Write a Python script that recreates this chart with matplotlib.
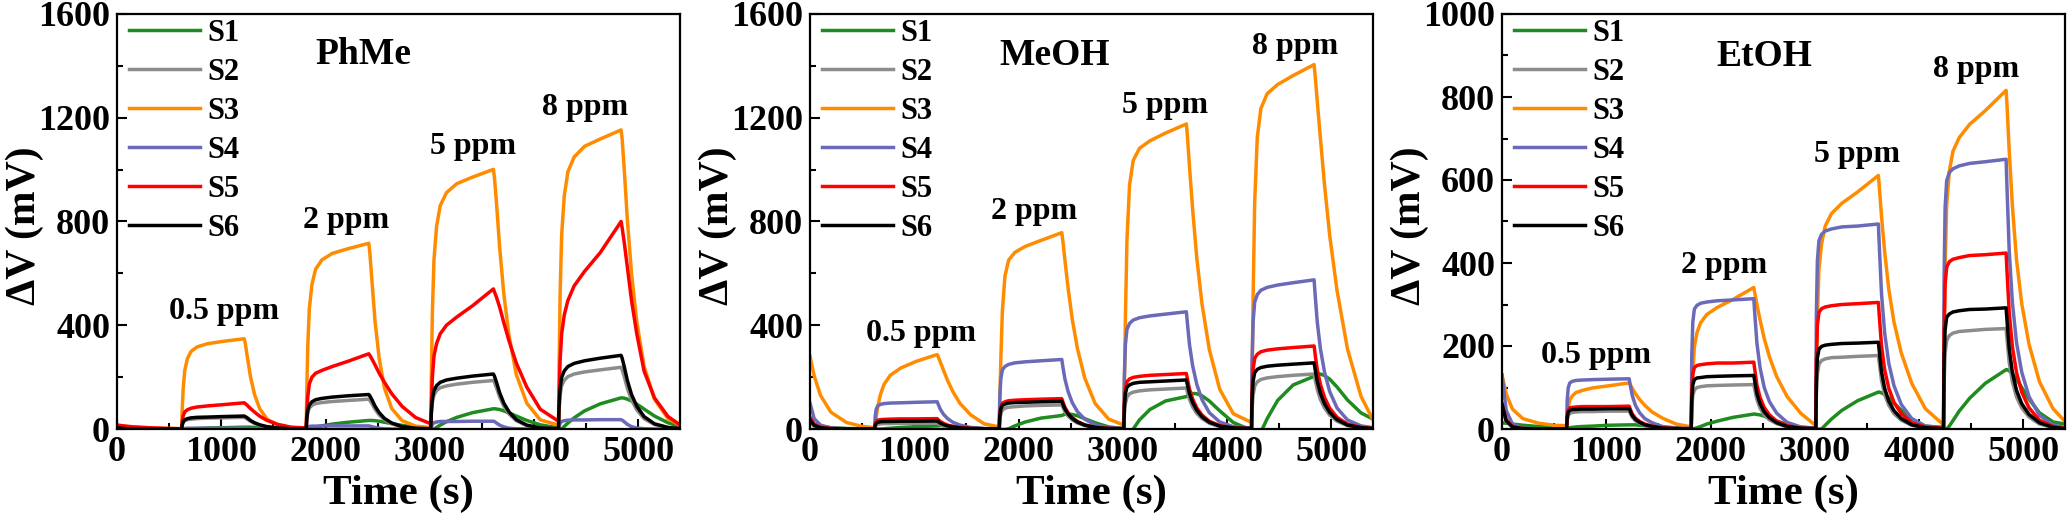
import matplotlib
matplotlib.use('Agg')
import matplotlib.pyplot as plt
from matplotlib.ticker import MultipleLocator

# ---------------- data ----------------
# shared time grid (s); gas on at ~620/1815/3010/4235 s, off 600 s later
time_s = [0, 40, 100, 200, 350, 500,
          620, 625, 635, 650, 675, 710, 770, 870, 1020, 1220,
          1230, 1250, 1280, 1320, 1370, 1440, 1540, 1670,
          1815, 1820, 1830, 1845, 1870, 1905, 1965, 2065, 2215, 2415,
          2425, 2445, 2475, 2515, 2565, 2635, 2735, 2865,
          3010, 3015, 3025, 3040, 3065, 3100, 3160, 3260, 3410, 3610,
          3620, 3640, 3670, 3710, 3760, 3830, 3930, 4060,
          4235, 4240, 4250, 4265, 4290, 4325, 4385, 4485, 4635, 4835,
          4845, 4865, 4895, 4935, 4985, 5055, 5155, 5285,
          5400]

sensor_names = ['S1', 'S2', 'S3', 'S4', 'S5', 'S6']
sensor_colors = ['#1e8c1e', '#8c8c8c', '#ff8c00', '#6a6ab8', '#ff0000', '#000000']

# ---- PhMe (mV) ----
phme_s1 = [0, 0, 0, 0, 0, 0,
           0, 0, 0, 0, 1, 1, 2, 4, 5, 7, 7, 7, 7, 6, 6, 4, 3, 1,
           0, 0, 0, 1, 3, 7, 12, 19, 26, 33, 33, 33, 32, 30, 26, 21, 14, 7,
           2, 1, 0, 0, 6, 15, 28, 45, 63, 78, 78, 77, 75, 70, 62, 50, 33, 16,
           4, 2, 0, 0, 10, 23, 43, 70, 97, 120, 120, 119, 115, 108, 96, 77, 50, 24,
           10]
phme_s2 = [3, 2, 1, 0, 0, 0,
           0, 14, 25, 32, 36, 38, 40, 42, 43, 45, 43, 38, 30, 21, 14, 8, 3, 1,
           0, 35, 63, 81, 91, 98, 102, 106, 110, 115, 110, 98, 76, 54, 36, 20, 8, 2,
           1, 56, 103, 131, 148, 159, 166, 173, 180, 187, 180, 159, 123, 88, 58, 32, 13, 4,
           2, 71, 131, 167, 188, 202, 212, 220, 228, 238, 228, 202, 157, 112, 74, 40, 17, 5,
           2]
phme_s3 = [15, 13, 10, 7, 4, 2,
           1, 70, 157, 226, 271, 299, 317, 329, 338, 348, 331, 278, 202, 132, 77, 38, 16, 5,
           2, 143, 322, 465, 558, 616, 652, 677, 695, 716, 680, 573, 415, 272, 158, 79, 32, 11,
           5, 200, 450, 651, 781, 861, 911, 946, 971, 1001, 971, 871, 701, 521, 360, 210, 100, 35,
           15, 231, 519, 749, 899, 992, 1049, 1090, 1118, 1153, 1118, 1003, 807, 600, 415, 242, 115, 40,
           14]
phme_s4 = [0, 0, 0, 0, 0, 0,
           0, 1, 2, 2, 3, 3, 3, 3, 3, 3, 3, 2, 2, 1, 0, 0, 0, 0,
           0, 4, 7, 10, 11, 11, 12, 12, 12, 12, 11, 9, 6, 3, 1, 0, 0, 0,
           0, 9, 18, 24, 27, 29, 29, 29, 30, 30, 29, 23, 15, 8, 3, 1, 0, 0,
           0, 11, 22, 29, 32, 34, 35, 35, 36, 36, 34, 28, 18, 9, 4, 1, 0, 0,
           0]
phme_s5 = [15, 13, 10, 7, 4, 2,
           1, 25, 51, 66, 74, 80, 85, 89, 94, 101, 98, 91, 79, 65, 49, 33, 18, 7,
           4, 58, 125, 174, 200, 215, 226, 241, 261, 290, 284, 270, 247, 215, 180, 136, 87, 44,
           20, 92, 200, 281, 329, 367, 400, 432, 475, 540, 529, 508, 470, 410, 340, 254, 162, 76,
           30, 120, 264, 368, 440, 496, 552, 608, 680, 800, 776, 720, 624, 496, 368, 224, 120, 48,
           16]
phme_s6 = [5, 3, 1, 0, 0, 0,
           0, 15, 28, 35, 40, 43, 45, 46, 48, 50, 48, 43, 33, 24, 16, 9, 4, 1,
           0, 40, 73, 93, 105, 113, 118, 123, 128, 133, 128, 113, 88, 63, 41, 23, 9, 3,
           1, 64, 117, 148, 167, 180, 189, 196, 204, 212, 204, 180, 140, 100, 66, 36, 15, 4,
           2, 85, 156, 199, 224, 241, 253, 263, 273, 284, 273, 241, 187, 133, 88, 48, 20, 6,
           2]

# ---- MeOH (mV) ----
meoh_s1 = [25, 18, 11, 5, 2, 1,
           0, 0, 0, 0, 0, 1, 3, 6, 9, 12, 12, 13, 13, 12, 10, 7, 4, 1,
           0, 0, -1, -2, -2, 1, 12, 27, 42, 52, 54, 57, 58, 56, 51, 40, 24, 8,
           2, 0, -4, -10, -14, 0, 35, 75, 108, 125, 128, 133, 137, 136, 128, 108, 70, 25,
           -5, -10, -18, -25, -25, -12, 40, 110, 170, 203, 206, 210, 212, 206, 192, 162, 112, 62,
           38]
meoh_s2 = [25, 11, 4, 1, 0, 0,
           0, 8, 14, 18, 20, 21, 21, 22, 22, 23, 21, 17, 12, 9, 6, 3, 1, 0,
           0, 33, 58, 73, 80, 84, 86, 89, 91, 93, 84, 67, 50, 35, 23, 13, 6, 2,
           1, 55, 98, 123, 136, 142, 147, 151, 154, 158, 142, 114, 85, 60, 40, 22, 9, 3,
           2, 74, 131, 165, 182, 191, 197, 202, 207, 212, 191, 153, 114, 81, 53, 30, 13, 4,
           2]
meoh_s3 = [280, 205, 130, 65, 25, 10,
           5, 17, 46, 86, 132, 172, 207, 235, 261, 287, 278, 258, 227, 187, 144, 98, 55, 20,
           8, 91, 265, 454, 590, 651, 681, 704, 727, 757, 727, 651, 545, 424, 310, 197, 98, 38,
           15, 141, 423, 729, 941, 1035, 1082, 1111, 1141, 1176, 1129, 1011, 847, 659, 482, 306, 153, 59,
           25, 169, 506, 871, 1124, 1236, 1293, 1328, 1363, 1405, 1363, 1265, 1124, 941, 745, 534, 309, 126,
           35]
meoh_s4 = [100, 40, 15, 4, 1, 0,
           0, 47, 76, 89, 95, 98, 100, 101, 103, 105, 95, 76, 57, 40, 26, 15, 6, 2,
           1, 121, 193, 228, 241, 249, 255, 259, 263, 268, 241, 193, 145, 102, 67, 38, 16, 5,
           2, 203, 325, 384, 407, 420, 429, 436, 443, 452, 407, 325, 244, 172, 113, 63, 27, 9,
           4, 259, 414, 489, 518, 535, 546, 555, 564, 575, 518, 414, 311, 219, 144, 81, 35, 12,
           5]
meoh_s5 = [45, 18, 6, 2, 0, 0,
           0, 18, 29, 34, 36, 37, 38, 39, 39, 40, 36, 29, 22, 15, 10, 6, 2, 1,
           0, 53, 84, 99, 105, 109, 111, 113, 115, 117, 105, 84, 63, 44, 29, 16, 7, 2,
           1, 96, 154, 182, 193, 199, 203, 207, 210, 214, 193, 154, 116, 81, 54, 30, 13, 4,
           2, 144, 230, 272, 288, 298, 304, 309, 314, 320, 288, 230, 173, 122, 80, 45, 19, 6,
           2]
meoh_s6 = [35, 14, 5, 1, 0, 0,
           0, 14, 22, 26, 28, 29, 29, 30, 30, 31, 28, 22, 17, 12, 8, 4, 2, 1,
           0, 48, 77, 91, 96, 100, 102, 103, 105, 107, 96, 77, 58, 41, 27, 15, 6, 2,
           1, 85, 136, 161, 170, 176, 180, 182, 185, 189, 170, 136, 102, 72, 47, 26, 11, 4,
           2, 115, 184, 217, 230, 237, 242, 246, 250, 255, 230, 184, 138, 97, 64, 36, 15, 5,
           2]

# ---- EtOH (mV) ----
etoh_s1 = [15, 14, 12, 9, 6, 4,
           3, 3, 3, 3, 4, 5, 6, 7, 9, 10, 10, 10, 10, 9, 8, 6, 4, 3,
           2, 1, 1, 1, 3, 6, 12, 19, 28, 36, 36, 35, 34, 31, 26, 19, 11, 4,
           2, 1, 0, 0, 0, 9, 24, 45, 68, 89, 89, 87, 83, 75, 62, 45, 24, 7,
           3, 1, 0, 0, 7, 20, 43, 74, 110, 143, 143, 140, 133, 120, 100, 72, 39, 17,
           12]
etoh_s2 = [50, 18, 5, 1, 0, 0,
           0, 19, 32, 38, 40, 41, 42, 42, 43, 43, 38, 28, 20, 14, 9, 5, 2, 1,
           0, 48, 80, 94, 100, 102, 104, 105, 106, 107, 94, 71, 50, 34, 22, 13, 5, 2,
           1, 80, 133, 156, 165, 169, 172, 173, 175, 177, 156, 117, 83, 57, 37, 21, 9, 3,
           1, 109, 182, 213, 225, 231, 235, 237, 240, 242, 213, 160, 114, 77, 51, 29, 12, 4,
           1]
etoh_s3 = [130, 85, 48, 25, 14, 9,
           8, 30, 52, 70, 80, 88, 93, 99, 104, 111, 107, 98, 85, 71, 57, 41, 26, 12,
           5, 51, 136, 198, 232, 256, 276, 293, 312, 341, 327, 300, 263, 218, 174, 126, 78, 38,
           8, 110, 275, 385, 446, 489, 519, 544, 571, 611, 580, 513, 428, 336, 257, 183, 110, 49,
           10, 163, 392, 539, 620, 669, 702, 734, 767, 816, 775, 669, 539, 408, 302, 204, 114, 49,
           18]
etoh_s4 = [130, 45, 12, 2, 0, 0,
           0, 67, 99, 111, 115, 117, 118, 119, 120, 121, 106, 80, 57, 39, 25, 15, 6, 2,
           1, 173, 257, 289, 298, 303, 306, 309, 311, 314, 276, 207, 148, 100, 66, 38, 16, 5,
           2, 272, 405, 454, 469, 477, 482, 487, 489, 494, 435, 326, 232, 158, 104, 59, 25, 7,
           4, 358, 533, 598, 618, 627, 634, 640, 644, 650, 572, 429, 306, 208, 137, 78, 33, 10,
           3]
etoh_s5 = [60, 22, 6, 1, 0, 0,
           0, 30, 45, 51, 52, 53, 54, 54, 54, 55, 48, 36, 26, 18, 12, 7, 3, 1,
           1, 89, 132, 148, 153, 155, 157, 159, 159, 161, 142, 106, 76, 52, 34, 19, 8, 2,
           1, 168, 250, 281, 290, 294, 297, 300, 302, 305, 268, 201, 143, 98, 64, 37, 15, 5,
           2, 233, 348, 390, 403, 409, 413, 418, 420, 424, 373, 280, 199, 136, 89, 51, 21, 6,
           2]
etoh_s6 = [60, 20, 5, 1, 0, 0,
           0, 27, 40, 45, 47, 47, 48, 48, 49, 49, 43, 32, 23, 16, 10, 6, 2, 1,
           0, 71, 106, 119, 123, 124, 126, 127, 128, 129, 114, 85, 61, 41, 27, 15, 6, 2,
           1, 115, 171, 192, 199, 202, 204, 206, 207, 209, 184, 138, 98, 67, 44, 25, 10, 3,
           1, 161, 239, 269, 277, 282, 285, 288, 289, 292, 257, 193, 137, 93, 61, 35, 15, 4,
           1]

panel_titles = ['PhMe', 'MeOH', 'EtOH']
conc_labels = ['0.5 ppm', '2 ppm', '5 ppm', '8 ppm']
panel_series = [
    [phme_s1, phme_s2, phme_s3, phme_s4, phme_s5, phme_s6],
    [meoh_s1, meoh_s2, meoh_s3, meoh_s4, meoh_s5, meoh_s6],
    [etoh_s1, etoh_s2, etoh_s3, etoh_s4, etoh_s5, etoh_s6],
]

# ---------------- layout / style ----------------
plt.rcParams['font.family'] = ['Liberation Serif', 'DejaVu Serif']
plt.rcParams['font.weight'] = 'bold'

fig = plt.figure(figsize=(20.7, 5.22), dpi=100)
W, H = 2070.0, 522.0
lefts = [117, 810, 1502]
ax_w, ax_top, ax_bot = 563, 14, 429

ylims = [1600, 1600, 1000]
ymajor = [400, 400, 200]
title_pos = [(2360, 1442), (2350, 1441), (2517, 897)]
conc_pos = [
    [(1024, 452), (2200, 803), (3415, 1088), (4494, 1239)],
    [(1069, 369), (2147, 837), (3407, 1248), (4649, 1473)],
    [(904, 176), (2126, 393), (3408, 662), (4546, 867)],
]

for p in range(3):
    ax = fig.add_axes([lefts[p] / W, (H - ax_bot) / H, ax_w / W, (ax_bot - ax_top) / H])
    for s in range(6):
        ax.plot(time_s, panel_series[p][s], color=sensor_colors[s], lw=2.5,
                label=sensor_names[s], solid_joinstyle='round')
    ax.set_xlim(0, 5400)
    ax.set_ylim(0, ylims[p])
    ax.xaxis.set_major_locator(MultipleLocator(1000))
    ax.xaxis.set_minor_locator(MultipleLocator(500))
    ax.yaxis.set_major_locator(MultipleLocator(ymajor[p]))
    ax.yaxis.set_minor_locator(MultipleLocator(ymajor[p] / 2))
    ax.tick_params(which='both', direction='in', labelsize=26, width=1.5)
    ax.tick_params(which='major', length=7, pad=5)
    ax.tick_params(which='minor', length=4)
    for sp in ax.spines.values():
        sp.set_linewidth(1.6)
    ax.set_xlabel('Time (s)', fontsize=31, fontweight='bold')
    ax.xaxis.set_label_coords(0.5, -0.11)
    ax.set_ylabel('ΔV (mV)', fontsize=30, fontweight='bold')
    ax.yaxis.set_label_coords(-0.13, 0.49)
    ax.text(title_pos[p][0], title_pos[p][1], panel_titles[p], fontsize=27,
            fontweight='bold', ha='center', va='center')
    for k in range(4):
        ax.text(conc_pos[p][k][0], conc_pos[p][k][1], conc_labels[k], fontsize=23,
                fontweight='bold', ha='center', va='center')
    ax.legend(loc='upper left', bbox_to_anchor=(0.014, 1.0), frameon=False,
              fontsize=22, handlelength=2.3, handletextpad=0.25,
              labelspacing=0.33, borderpad=0.15, borderaxespad=0)

fig.savefig('out.png', dpi=100)
